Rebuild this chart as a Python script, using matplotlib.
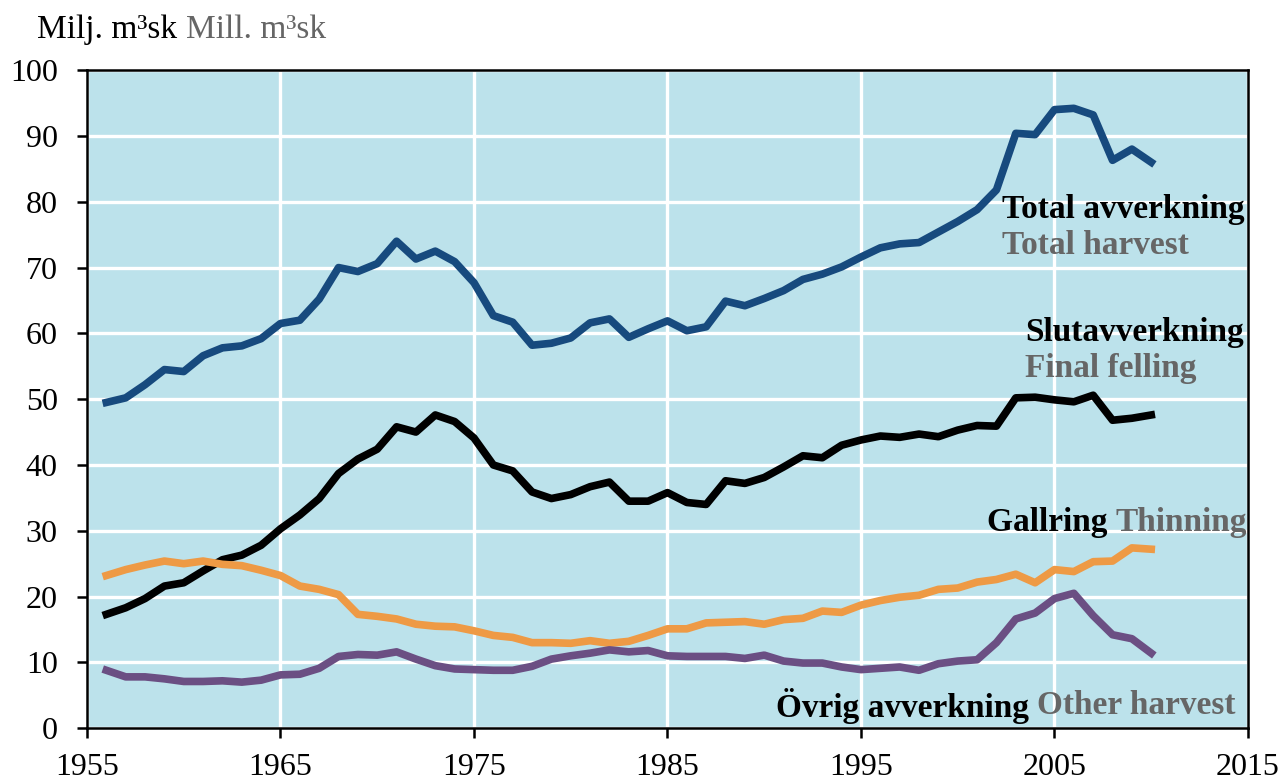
import matplotlib
matplotlib.use("Agg")
import matplotlib.pyplot as plt
import numpy as np

years = np.arange(1956, 2011)

total = [49.5, 50.2, 52.2, 54.5, 54.2, 56.6, 57.8, 58.1, 59.2, 61.5,
         62.0, 65.2, 70.0, 69.4, 70.6, 74.0, 71.3, 72.5, 70.9, 67.7,
         62.7, 61.7, 58.2, 58.5, 59.3, 61.6, 62.2, 59.4, 60.7, 61.9,
         60.4, 61.0, 64.9, 64.2, 65.3, 66.5, 68.2, 69.0, 70.1, 71.6,
         73.0, 73.6, 73.8, 75.4, 77.0, 78.8, 81.8, 90.4, 90.2, 94.0,
         94.2, 93.2, 86.3, 88.0, 86.0]

slut = [17.3, 18.3, 19.7, 21.6, 22.1, 23.9, 25.6, 26.3, 27.8, 30.3,
        32.4, 34.9, 38.7, 40.9, 42.4, 45.8, 45.0, 47.6, 46.6, 44.1,
        40.0, 39.1, 35.9, 34.9, 35.5, 36.7, 37.4, 34.5, 34.5, 35.8,
        34.3, 34.0, 37.6, 37.2, 38.1, 39.7, 41.4, 41.1, 43.0, 43.8,
        44.4, 44.2, 44.7, 44.3, 45.3, 46.0, 45.9, 50.2, 50.3, 49.9,
        49.6, 50.6, 46.8, 47.1, 47.6]

gallring = [23.2, 24.1, 24.8, 25.4, 25.0, 25.4, 24.9, 24.7, 24.0, 23.2,
            21.6, 21.1, 20.3, 17.3, 17.0, 16.6, 15.8, 15.5, 15.4, 14.8,
            14.1, 13.8, 13.0, 13.0, 12.9, 13.3, 12.9, 13.2, 14.1, 15.1,
            15.1, 16.0, 16.1, 16.2, 15.8, 16.5, 16.7, 17.8, 17.6, 18.7,
            19.4, 19.9, 20.2, 21.1, 21.3, 22.2, 22.6, 23.4, 22.1, 24.1,
            23.8, 25.3, 25.4, 27.4, 27.2]

ovrig = [8.8, 7.8, 7.8, 7.5, 7.1, 7.1, 7.2, 7.0, 7.3, 8.1,
         8.2, 9.1, 10.9, 11.2, 11.1, 11.6, 10.5, 9.5, 9.0, 8.9,
         8.8, 8.8, 9.4, 10.5, 11.0, 11.4, 11.9, 11.6, 11.8, 11.0,
         10.9, 10.9, 10.9, 10.6, 11.1, 10.2, 9.9, 9.9, 9.3, 8.9,
         9.1, 9.3, 8.8, 9.8, 10.2, 10.4, 13.0, 16.6, 17.5, 19.7,
         20.5, 17.1, 14.2, 13.6, 11.4]

xticks = [1955, 1965, 1975, 1985, 1995, 2005, 2015]
yticks = list(range(0, 101, 10))

GREY = "#666666"
LW = 5.5

plt.rcParams["font.family"] = ["Liberation Serif", "DejaVu Serif"]

fig = plt.figure(figsize=(12.85, 7.83), dpi=100)
ax = fig.add_axes([0.0677, 0.070, 0.9035, 0.8404])
ax.set_facecolor("#bce2eb")

ax.plot(years, total, color="#174a7e", lw=LW)
ax.plot(years, slut, color="black", lw=LW)
ax.plot(years, gallring, color="#ee9a45", lw=LW)
ax.plot(years, ovrig, color="#6b4f83", lw=LW)

ax.set_xlim(1955, 2015)
ax.set_ylim(0, 100)
ax.set_xticks(xticks)
ax.set_yticks(yticks)
ax.grid(True, color="white", lw=2.4)
ax.set_axisbelow(True)
for s in ax.spines.values():
    s.set_linewidth(1.8)
ax.tick_params(direction="out", length=7, width=1.8, labelsize=23)
ax.tick_params(axis="y", pad=14)
ax.tick_params(axis="x", pad=11)

bold = dict(fontsize=24, fontweight="bold", va="center")

ax.text(2002.3, 78.8, "Total avverkning", color="black", ha="left", **bold)
ax.text(2002.3, 73.4, "Total harvest", color=GREY, ha="left", **bold)
ax.text(2003.5, 60.2, "Slutavverkning", color="black", ha="left", **bold)
ax.text(2003.5, 54.6, "Final felling", color=GREY, ha="left", **bold)

# two-colour labels: Swedish in black, English continues in grey
t = ax.text(2001.5, 31.3, "Gallring ", color="black", ha="left", **bold)
ax.annotate("Thinning", xy=(1, 0.5), xycoords=t, ha="left", color=GREY, **bold)

t = ax.text(1990.6, 3.4, "Övrig avverkning ", color="black", ha="left", **bold)
ax.annotate("Other harvest", xy=(1, 0.5), xycoords=t, ha="left", color=GREY, **bold)

t = fig.text(0.029, 0.962, "Milj. m³sk ", fontsize=24, color="black",
             ha="left", va="center")
ax.annotate("Mill. m³sk", xy=(1, 0.5), xycoords=t, ha="left", va="center",
            fontsize=24, color=GREY)

fig.savefig("out.png", dpi=100)
